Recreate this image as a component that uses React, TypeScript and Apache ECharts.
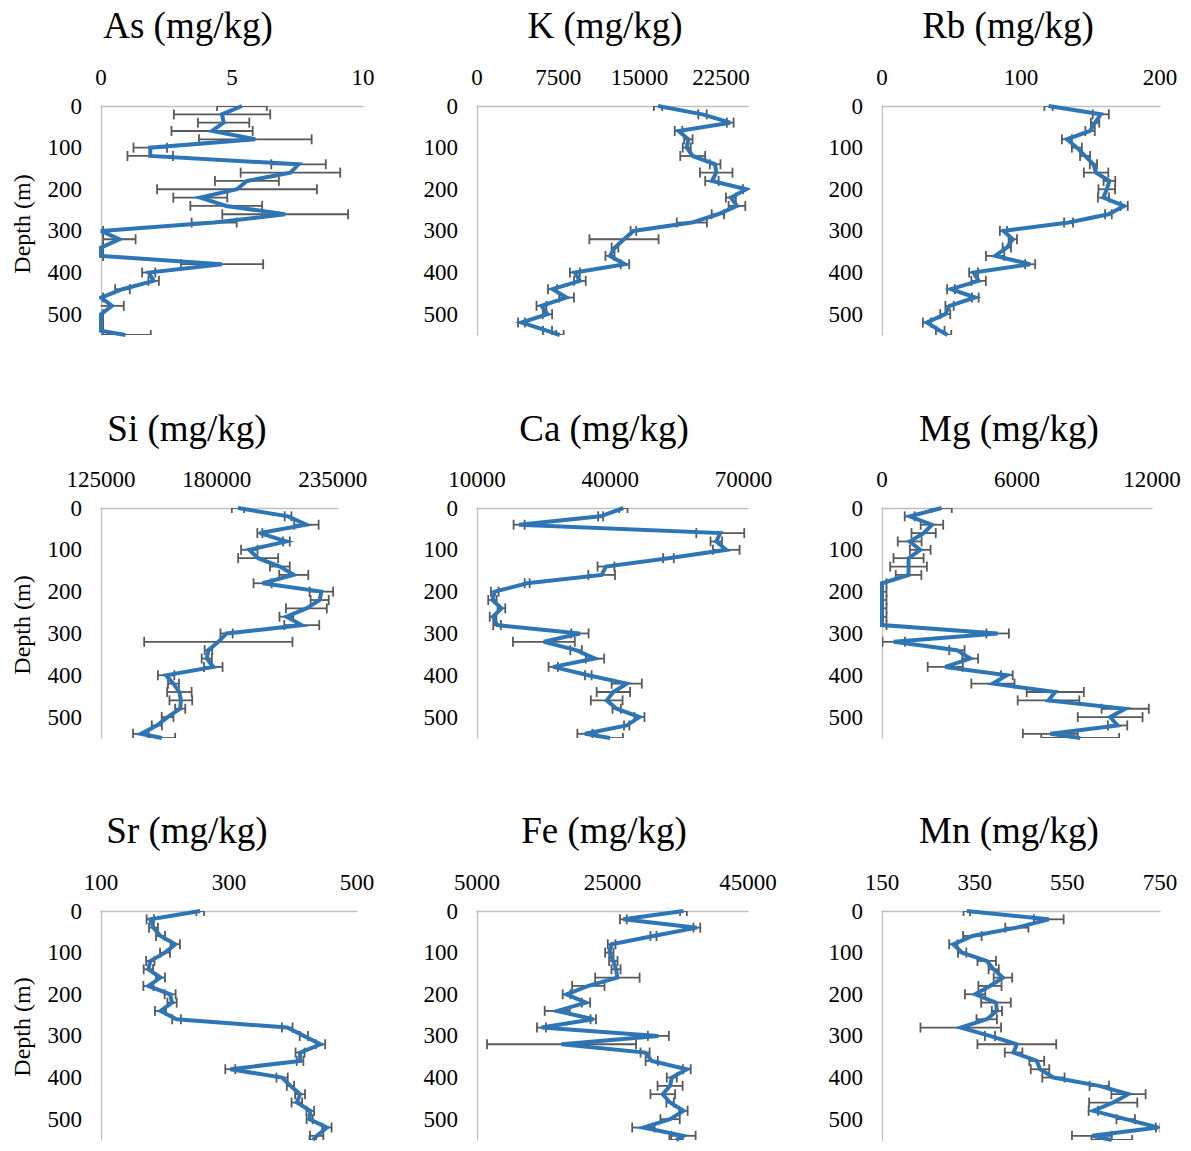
import { useEffect, useRef } from 'react';
import * as echarts from 'echarts';

// Sampling depths (m), shared by every element profile
const depths = [0, 20, 40, 60, 80, 100, 120, 140, 160, 180, 200, 220, 240, 260, 280, 300, 320, 340, 360, 380, 400, 420, 440, 460, 480, 500, 520, 540, 550];

const asValues = [5.38, 4.62, 4.68, 4.24, 5.89, 1.88, 1.88, 7.54, 7.23, 5.57, 5.19, 3.79, 4.78, 7.03, 4.32, 0, 0.7, 0, 0, 4.62, 1.82, 2.01, 0.82, 0, 0.42, 0, 0, 0, 0.93];
const asErrors = [0.95, 1.84, 0.98, 1.55, 2.15, 0.64, 0.87, 1.04, 1.9, 1.22, 3.05, 1.03, 1.37, 2.4, 0.86, 0.08, 0.62, 0.08, 0.08, 1.57, 0.25, 0.2, 0.28, 0.08, 0.45, 0.08, 0.08, 0.08, 0.97];

const kValues = [16700, 20800, 23360, 18590, 19500, 19350, 19900, 21970, 22070, 21670, 24840, 23420, 23980, 22220, 19820, 14430, 13560, 12730, 12270, 13650, 9030, 9490, 6970, 8260, 5950, 6500, 4100, 6500, 7640];
const kErrors = [380, 385, 310, 350, 385, 370, 1150, 490, 1500, 620, 300, 460, 770, 570, 1390, 260, 3190, 310, 420, 390, 460, 540, 420, 680, 460, 430, 310, 420, 350];

const rbValues = [119.8, 157.4, 153.3, 149.7, 133.0, 140.2, 146.1, 152.1, 154.0, 163.6, 161.7, 159.3, 174.2, 162.9, 134.2, 87.4, 94.1, 89.8, 81.4, 106.6, 65.9, 69.5, 49.6, 67.1, 48.6, 45.5, 32.3, 41.9, 47.2];
const rbErrors = [3.0, 5.8, 3.0, 3.4, 3.6, 3.6, 3.6, 2.6, 8.8, 4.2, 6.0, 4.0, 2.6, 2.4, 3.2, 2.6, 3.0, 3.0, 6.6, 3.6, 3.2, 5.2, 2.8, 2.4, 3.0, 3.6, 2.9, 3.1, 2.6];

const siValues = [190000, 213800, 222500, 200400, 213000, 195400, 199600, 209900, 216500, 201700, 229600, 228800, 222500, 213000, 220300, 184600, 180700, 176000, 175200, 178300, 155900, 159400, 162200, 162900, 162600, 156600, 151500, 143900, 153900];
const siErrors = [2900, 1600, 5800, 1200, 1600, 3900, 9500, 4700, 6900, 4300, 5600, 4300, 9700, 3300, 8300, 2900, 35200, 1800, 2400, 4400, 3900, 2600, 5800, 5400, 2400, 2800, 2400, 3700, 6300];

const caValues = [42940, 37830, 19480, 64760, 63860, 66110, 53100, 39030, 38060, 21290, 14000, 13470, 15500, 13620, 14520, 33170, 25050, 32300, 36550, 27150, 35050, 43700, 40700, 39200, 41440, 46560, 43700, 34290, 39940];
const caErrors = [940, 560, 1240, 5400, 1300, 3000, 1200, 1900, 3000, 560, 860, 940, 860, 750, 860, 1950, 6960, 1300, 2070, 1050, 750, 3400, 3760, 3570, 940, 1130, 600, 1700, 2900];

const mgValues = [2650, 1230, 2220, 1850, 1230, 1700, 1180, 1180, 1180, 0, 0, 0, 0, 0, 0, 5140, 520, 3330, 3920, 2810, 5550, 4930, 7700, 7400, 10810, 10140, 10470, 7480, 8810];
const mgErrors = [450, 220, 500, 540, 530, 460, 670, 815, 570, 200, 200, 200, 200, 200, 200, 500, 500, 340, 350, 780, 260, 960, 1270, 1370, 1050, 1440, 430, 1220, 1730];

const srValues = [255, 177, 182, 193, 216, 200, 177, 174, 193, 174, 208, 211, 193, 218, 391, 417, 443, 411, 411, 302, 383, 396, 411, 406, 427, 426, 453, 437, 431];
const srErrors = [6, 5.7, 7, 7, 7.3, 7.8, 6.5, 7.3, 7, 7.8, 8.6, 7.3, 8.6, 6.8, 8.3, 6.5, 7.3, 7, 5.2, 7.8, 8.8, 5.7, 7.8, 8.3, 6, 4.7, 7.3, 10.4, 5.2];

const feValues = [35470, 26600, 37450, 31040, 24870, 24530, 25120, 25520, 25720, 21430, 18220, 21080, 16840, 22160, 14520, 31770, 17480, 29810, 30790, 35970, 33750, 33500, 32420, 33500, 35470, 33500, 29560, 35470, 34390];
const feErrors = [500, 500, 500, 450, 570, 620, 620, 670, 3280, 2390, 570, 620, 1850, 400, 670, 1550, 11000, 670, 900, 570, 740, 1850, 1820, 550, 620, 1430, 1650, 1800, 990];

const mnValues = [333, 510, 441, 345, 304, 323, 376, 391, 411, 383, 351, 396, 398, 376, 320, 383, 441, 434, 484, 491, 520, 619, 682, 649, 606, 676, 746, 603, 646];
const mnErrors = [7, 32, 25, 20, 9, 9, 20, 11, 20, 25, 22, 32, 11, 22, 87, 11, 85, 19, 16, 20, 24, 21, 37, 52, 10, 20, 5, 43, 44];

const depthTicks = [0, 100, 200, 300, 400, 500];

const BLUE = '#2E75B6';
const ERR = '#595959';
const AXIS = '#BFBFBF';
const FONT = '"Liberation Serif", "Times New Roman", serif';

type Panel = {
  title: string;
  values: number[];
  errors: number[];
  min: number;
  max: number;
  interval: number;
  left: number;
  top: number;
  width: number;
  height: number;
  titleX: number;
  titleY: number;
};

const panels: Panel[] = [
  { title: 'As (mg/kg)', values: asValues, errors: asErrors, min: 0, max: 10, interval: 5, left: 101, top: 106, width: 262, height: 229, titleX: 188, titleY: 25 },
  { title: 'K (mg/kg)', values: kValues, errors: kErrors, min: 0, max: 25000, interval: 7500, left: 477, top: 106, width: 271, height: 229, titleX: 605, titleY: 25 },
  { title: 'Rb (mg/kg)', values: rbValues, errors: rbErrors, min: 0, max: 200, interval: 100, left: 882, top: 106, width: 278, height: 229, titleX: 1008, titleY: 25 },
  { title: 'Si (mg/kg)', values: siValues, errors: siErrors, min: 125000, max: 237500, interval: 55000, left: 101, top: 508, width: 237, height: 230, titleX: 187, titleY: 428 },
  { title: 'Ca (mg/kg)', values: caValues, errors: caErrors, min: 10000, max: 71000, interval: 30000, left: 477, top: 508, width: 271, height: 230, titleX: 604, titleY: 428 },
  { title: 'Mg (mg/kg)', values: mgValues, errors: mgErrors, min: 0, max: 12000, interval: 6000, left: 882, top: 508, width: 270, height: 230, titleX: 1009, titleY: 428 },
  { title: 'Sr (mg/kg)', values: srValues, errors: srErrors, min: 100, max: 500, interval: 200, left: 101, top: 911, width: 256, height: 229, titleX: 187, titleY: 830 },
  { title: 'Fe (mg/kg)', values: feValues, errors: feErrors, min: 5000, max: 45000, interval: 20000, left: 477, top: 911, width: 271, height: 229, titleX: 604, titleY: 830 },
  { title: 'Mn (mg/kg)', values: mnValues, errors: mnErrors, min: 150, max: 750, interval: 200, left: 882, top: 911, width: 278, height: 229, titleX: 1009, titleY: 830 },
];

const onStep = (v: number, min: number, step: number) => {
  const k = (v - min) / step;
  return Math.abs(k - Math.round(k)) < 1e-6;
};

// Horizontal error bar with end caps for one sample
const renderErrorBar = (_params: any, api: any) => {
  const x = api.value(0);
  const y = api.value(1);
  const e = api.value(2);
  const lo = api.coord([x - e, y]);
  const hi = api.coord([x + e, y]);
  const cap = 5;
  const style = { stroke: ERR, lineWidth: 1.8 };
  return {
    type: 'group',
    children: [
      { type: 'line', shape: { x1: lo[0], y1: lo[1], x2: hi[0], y2: hi[1] }, style },
      { type: 'line', shape: { x1: lo[0], y1: lo[1] - cap, x2: lo[0], y2: lo[1] + cap }, style },
      { type: 'line', shape: { x1: hi[0], y1: hi[1] - cap, x2: hi[0], y2: hi[1] + cap }, style },
    ],
  };
};

const labelStyle = { color: '#000', fontFamily: FONT, fontSize: 23 };

export default function App() {
  const ref = useRef<HTMLDivElement>(null);

  useEffect(() => {
    if (!ref.current) return;
    const chart = echarts.init(ref.current, undefined, { renderer: 'svg' });

    const grid = panels.map((p) => ({ left: p.left, top: p.top, width: p.width, height: p.height }));

    const xAxis = panels.map((p, i) => ({
      type: 'value',
      gridIndex: i,
      position: 'top',
      min: p.min,
      max: p.max,
      interval: p.interval,
      axisLine: { show: true, onZero: false, lineStyle: { color: AXIS, width: 1.3 } },
      axisTick: { show: false },
      splitLine: { show: false },
      axisLabel: {
        ...labelStyle,
        margin: 17,
        showMinLabel: true,
        showMaxLabel: true,
        formatter: (v: number) => (onStep(v, p.min, p.interval) ? String(v) : ''),
      },
    }));

    const yAxis = panels.map((_p, i) => ({
      type: 'value',
      gridIndex: i,
      inverse: true,
      min: 0,
      max: 550,
      interval: 100,
      axisLine: { show: true, onZero: false, lineStyle: { color: AXIS, width: 1.3 } },
      axisTick: { show: false },
      splitLine: { show: false },
      axisLabel: {
        ...labelStyle,
        margin: 19,
        showMinLabel: true,
        showMaxLabel: true,
        formatter: (v: number) => (depthTicks.includes(v) ? String(v) : ''),
      },
    }));

    const series: any[] = [];
    panels.forEach((p, i) => {
      series.push({
        type: 'custom',
        xAxisIndex: i,
        yAxisIndex: i,
        clip: true,
        silent: true,
        z: 2,
        encode: { x: 0, y: 1 },
        data: depths.map((d, k) => [p.values[k], d, p.errors[k]]),
        renderItem: renderErrorBar,
      });
      series.push({
        type: 'line',
        xAxisIndex: i,
        yAxisIndex: i,
        silent: true,
        z: 3,
        symbol: 'none',
        showSymbol: false,
        lineStyle: { color: BLUE, width: 4, join: 'miter' },
        data: depths.map((d, k) => [p.values[k], d]),
      });
    });

    const graphic: any[] = panels.map((p) => ({
      type: 'text',
      x: p.titleX,
      y: p.titleY,
      style: {
        text: p.title,
        font: `37px ${FONT}`,
        fill: '#000',
        align: 'center',
        verticalAlign: 'middle',
        textAlign: 'center',
        textVerticalAlign: 'middle',
      },
    }));
    [224, 625, 1027].forEach((cy) => {
      graphic.push({
        type: 'text',
        x: 22,
        y: cy,
        rotation: Math.PI / 2,
        style: {
          text: 'Depth (m)',
          font: `24px ${FONT}`,
          fill: '#000',
          align: 'center',
          verticalAlign: 'middle',
          textAlign: 'center',
          textVerticalAlign: 'middle',
        },
      });
    });

    chart.setOption({
      animation: false,
      backgroundColor: '#fff',
      grid,
      xAxis,
      yAxis,
      series,
      graphic,
    });

    return () => chart.dispose();
  }, []);

  return (
    <div
      ref={ref}
      style={{ position: 'absolute', left: 0, top: 0, width: 1191, height: 1151, background: '#fff' }}
    />
  );
}
